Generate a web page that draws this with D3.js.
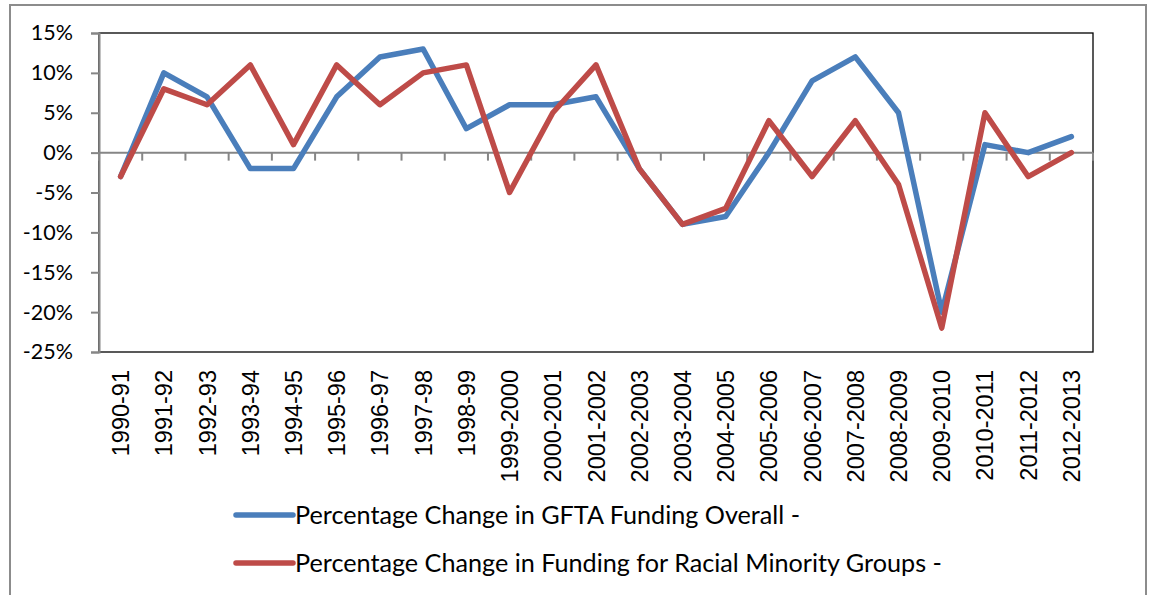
<!DOCTYPE html>
<html><head><meta charset="utf-8">
<script src="https://cdn.jsdelivr.net/npm/d3@7/dist/d3.min.js"></script>
<style>body{margin:0;background:#fff}svg{display:block}</style>
</head><body>
<svg id="c" width="1149" height="595"></svg>
<script>
const categories = ["1990-91","1991-92","1992-93","1993-94","1994-95","1995-96","1996-97","1997-98","1998-99","1999-2000","2000-2001","2001-2002","2002-2003","2003-2004","2004-2005","2005-2006","2006-2007","2007-2008","2008-2009","2009-2010","2010-2011","2011-2012","2012-2013"];
const gftaOverall = [-3,10,7,-2,-2,7,12,13,3,6,6,7,-2,-9,-8,0,9,12,5,-20,1,0,2];
const racialMinority = [-3,8,6,11,1,11,6,10,11,-5,5,11,-2,-9,-7,4,-3,4,-4,-22,5,-3,0];
const yTicks = [15,10,5,0,-5,-10,-15,-20,-25];
const seriesNames = ["Percentage Change in GFTA Funding Overall -","Percentage Change in Funding for Racial Minority Groups -"];
const colors = ["#4A7EBB","#BE4B48"];

const svg = d3.select("#c");
const L=99, R=1093, T=33, B=352;
const x = d3.scaleBand().domain(categories).range([L,R]);
const y = d3.scaleLinear().domain([-25,15]).range([B,T]);

// outer border
svg.append("rect").attr("x",10).attr("y",5).attr("width",1136).attr("height",600)
  .attr("fill","none").attr("stroke","#8c8c8c").attr("stroke-width",2);

// plot area border
svg.append("rect").attr("x",L).attr("y",T).attr("width",R-L).attr("height",B-T)
  .attr("fill","none").attr("stroke","#000").attr("stroke-width",1.3);

// y axis
const ya = svg.append("g").attr("transform",`translate(${L},0)`)
  .call(d3.axisLeft(y).tickValues(yTicks).tickSize(8).tickPadding(18).tickFormat(d=>d+"%"));
ya.select(".domain").attr("stroke","#868686").attr("stroke-width",2);
ya.selectAll(".tick line").attr("stroke","#868686").attr("stroke-width",2);
ya.selectAll("text").attr("font-family","Lato, 'Open Sans', sans-serif").attr("font-size",21.5).attr("fill","#000");

// x axis at zero with ticks at category boundaries
const bounds = categories.map(c=>x(c)).concat([R]);
svg.append("line").attr("x1",L).attr("x2",R).attr("y1",y(0)).attr("y2",y(0))
  .attr("stroke","#868686").attr("stroke-width",2);
svg.append("g").selectAll("line").data(bounds).join("line")
  .attr("x1",d=>d).attr("x2",d=>d).attr("y1",y(0)).attr("y2",y(0)+8)
  .attr("stroke","#868686").attr("stroke-width",2);

// x labels
svg.append("g").selectAll("text").data(categories).join("text")
  .attr("transform",d=>`translate(${x(d)+x.bandwidth()/2+8.5},370) rotate(-90)`)
  .attr("text-anchor","end")
  .attr("font-family","'Liberation Sans', Arial, sans-serif").attr("font-size",23.5).attr("fill","#000")
  .text(d=>d);

// lines
const line = d3.line().x((d,i)=>x(categories[i])+x.bandwidth()/2).y(d=>y(d));
[gftaOverall, racialMinority].forEach((s,k)=>{
  svg.append("path").datum(s).attr("d",line).attr("fill","none")
    .attr("stroke",colors[k]).attr("stroke-width",5.5).attr("stroke-linejoin","round").attr("stroke-linecap","round");
});

// legend
const lg = svg.append("g");
seriesNames.forEach((n,k)=>{
  const ly = [515,563][k];
  lg.append("line").attr("x1",236).attr("x2",293).attr("y1",ly).attr("y2",ly)
    .attr("stroke",colors[k]).attr("stroke-width",5.5).attr("stroke-linecap","round");
  lg.append("text").attr("x",295).attr("y",ly+8.5).attr("font-family","Lato, 'Open Sans', sans-serif")
    .attr("font-size",25.2).attr("fill","#000").text(n);
});
</script>
</body></html>
